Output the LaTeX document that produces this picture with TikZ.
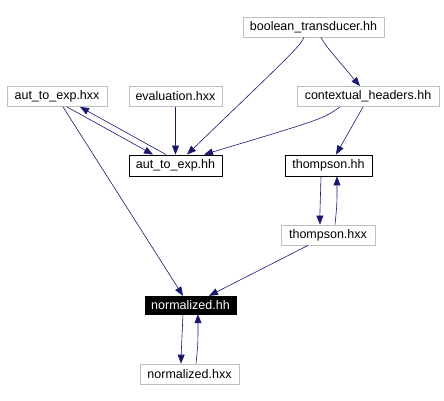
\documentclass[tikz,border=0pt]{standalone}
\usepackage{fontspec}
\setmainfont{Liberation Sans}
\usetikzlibrary{arrows.meta,calc}
\definecolor{edgec}{HTML}{191970}
\definecolor{grayb}{HTML}{BFBFBF}
\tikzset{
  file/.style={draw=grayb, line width=0.8pt, fill=white, inner sep=0pt, font=\fontsize{12.5}{14}\selectfont, text=black},
  cur/.style={draw=black, line width=0.9pt, fill=white, inner sep=0pt, font=\fontsize{12.5}{14}\selectfont, text=black},
  root/.style={draw=black, fill=black, inner sep=0pt, font=\fontsize{12.5}{14}\selectfont, text=white},
  dep/.style={draw=edgec, line width=0.6pt, -{Triangle[length=9pt,width=7pt]}},
}
\begin{document}
\begin{tikzpicture}[x=1pt,y=-1pt]
\useasboundingbox (0,0) rectangle (444,401);
\node[file, minimum width=141pt, minimum height=20pt] (bt) at (313.5,27) {boolean\_transducer.hh};
\node[file, minimum width=100pt, minimum height=20pt] (ahxx) at (57,96.5) {aut\_to\_exp.hxx};
\node[file, minimum width=93pt, minimum height=20pt] (ev) at (175.5,96.5) {evaluation.hxx};
\node[file, minimum width=142pt, minimum height=20pt] (ch) at (368,96.5) {contextual\_headers.hh};
\node[cur, minimum width=93pt, minimum height=21pt] (ath) at (175.5,165.5) {aut\_to\_exp.hh};
\node[cur, minimum width=87pt, minimum height=21pt] (th) at (328.5,165.5) {thompson.hh};
\node[file, minimum width=94pt, minimum height=20pt] (thx) at (328,235) {thompson.hxx};
\node[root, minimum width=91pt, minimum height=18pt] (nh) at (190.5,305) {normalized.hh};
\node[file, minimum width=99pt, minimum height=20pt] (nhx) at (189.5,374) {normalized.hxx};

\draw[dep] ([xshift=-9.5pt]bt.south) .. controls ($(bt.south)+(-15,10)$) .. ([xshift=11.5pt]ath.north);
\draw[dep] ([xshift=7.5pt]bt.south) .. controls ($(bt.south)+(12,8)$) .. ([xshift=-8pt]ch.north);
\draw[dep] ([xshift=10pt]ahxx.south) -- ([xshift=-22.5pt]ath.north);
\draw[dep] ([xshift=-9.5pt]ath.north) -- ([xshift=23pt]ahxx.south);
\draw[dep] ([xshift=6pt]ahxx.south) .. controls ($(ahxx.south)+(60,85)$) .. ([xshift=-7.5pt]nh.north);
\draw[dep] (ev.south) -- (ath.north);
\draw[dep] ([xshift=-28pt]ch.south) .. controls ($(ch.south)+(-45,12)$) .. ([xshift=28.5pt]ath.north);
\draw[dep] ([xshift=-5pt]ch.south) -- ([xshift=7.5pt]th.north);
\draw[dep] ([xshift=-7.5pt]th.south) .. controls ($(th.south)+(-9,20)$) .. ([xshift=-8pt]thx.north);
\draw[dep] ([xshift=7pt]thx.north) .. controls ($(thx.north)+(9,-20)$) .. ([xshift=8.5pt]th.south);
\draw[dep] ([xshift=-20pt]thx.south) -- ([xshift=18.5pt]nh.north);
\draw[dep] ([xshift=-7.5pt]nh.south) .. controls ($(nh.south)+(-9,20)$) .. ([xshift=-8.5pt]nhx.north);
\draw[dep] ([xshift=6.5pt]nhx.north) .. controls ($(nhx.north)+(8.5,-20)$) .. ([xshift=7.5pt]nh.south);
\end{tikzpicture}
\end{document}
